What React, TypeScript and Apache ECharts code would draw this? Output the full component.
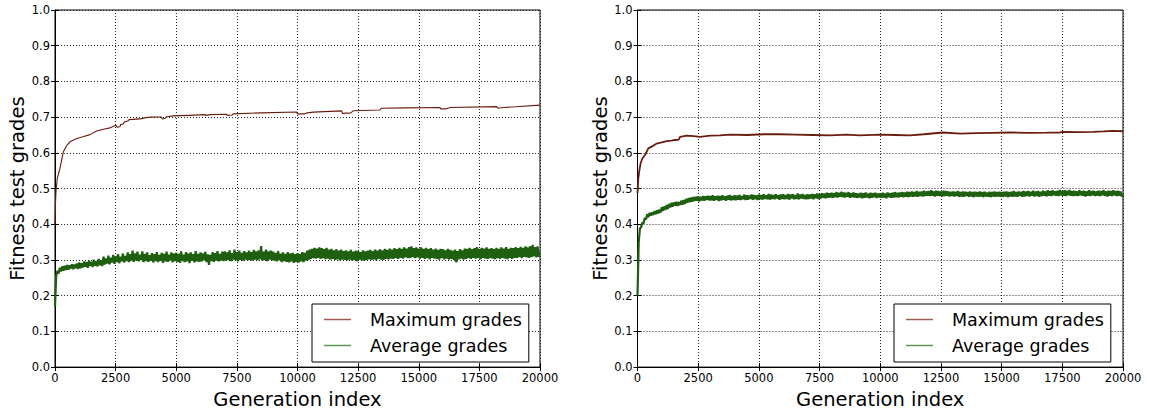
import React, { useEffect, useRef } from "react";
import * as echarts from "echarts";

const SERIES_NAMES = ["Maximum grades", "Average grades"];
const X_AXIS_TITLE = "Generation index";
const Y_AXIS_TITLE = "Fitness test grades";
const Y_TICK_LABELS = ["0.0", "0.1", "0.2", "0.3", "0.4", "0.5", "0.6", "0.7", "0.8", "0.9", "1.0"];
const X_MIN = 0;
const X_MAX = 20000;
const X_INTERVAL = 2500;
const AVG_STEP = 50; // generations between the sampled average-grade values

// Left run: maximum grades [generation, grade]
const leftMax: [number, number][] = [
  [0, 0.40], [20, 0.46], [41, 0.492], [96, 0.529], [206, 0.557], [344, 0.603], [480, 0.62],
  [619, 0.631], [894, 0.64], [1150, 0.645], [1443, 0.651], [1718, 0.661], [2000, 0.666],
  [2268, 0.67], [2515, 0.677], [2560, 0.672], [2680, 0.673], [2700, 0.679], [2818, 0.681],
  [2850, 0.686], [3024, 0.69], [3050, 0.693], [3505, 0.695], [3700, 0.698], [3918, 0.7],
  [4330, 0.7005], [4400, 0.7003], [4420, 0.695], [4550, 0.697], [4600, 0.701], [4880, 0.7035],
  [5500, 0.705], [6200, 0.707], [6220, 0.705], [6400, 0.707], [7079, 0.708], [7100, 0.705],
  [7300, 0.706], [7350, 0.709], [8500, 0.712], [9966, 0.7145], [10000, 0.709], [10300, 0.709],
  [10400, 0.712], [10650, 0.714], [11822, 0.7175], [11850, 0.7105], [12200, 0.712],
  [12303, 0.718], [13402, 0.72], [13450, 0.725], [14500, 0.726], [15876, 0.727], [15900, 0.723],
  [16100, 0.723], [16289, 0.727], [18213, 0.7295], [18250, 0.725], [18500, 0.727],
  [19000, 0.729], [20000, 0.7335],
];

// Left run: average grades, one value every AVG_STEP generations (0 .. 20000)
const leftAvg: number[] = [
  0.17, 0.255, 0.27, 0.262, 0.278, 0.268, 0.282, 0.27, 0.284, 0.272, 0.286, 0.273, 0.285, 0.276, 0.288, 0.274, 0.287, 0.277, 0.29, 0.275,
  0.293, 0.277, 0.291, 0.279, 0.296, 0.281, 0.294, 0.278, 0.298, 0.283, 0.295, 0.28, 0.301, 0.284, 0.297, 0.282, 0.303, 0.285, 0.299, 0.283,
  0.309, 0.287, 0.304, 0.29, 0.312, 0.288, 0.306, 0.293, 0.314, 0.289, 0.31, 0.294, 0.316, 0.291, 0.309, 0.296, 0.318, 0.293, 0.311, 0.297,
  0.321, 0.294, 0.316, 0.298, 0.326, 0.295, 0.318, 0.299, 0.323, 0.296, 0.315, 0.3, 0.324, 0.294, 0.317, 0.297, 0.321, 0.295, 0.313, 0.298,
  0.319, 0.293, 0.316, 0.297, 0.322, 0.294, 0.314, 0.298, 0.32, 0.292, 0.317, 0.296, 0.323, 0.295, 0.315, 0.299, 0.321, 0.293, 0.318, 0.297,
  0.32, 0.295, 0.317, 0.292, 0.324, 0.297, 0.315, 0.294, 0.322, 0.296, 0.318, 0.291, 0.321, 0.298, 0.316, 0.293, 0.325, 0.296, 0.317, 0.295,
  0.321, 0.296, 0.318, 0.299, 0.323, 0.294, 0.316, 0.286, 0.314, 0.297, 0.322, 0.295, 0.319, 0.298, 0.325, 0.296, 0.317, 0.299, 0.323, 0.297,
  0.324, 0.298, 0.321, 0.3, 0.327, 0.297, 0.319, 0.301, 0.329, 0.299, 0.322, 0.296, 0.326, 0.3, 0.32, 0.298, 0.325, 0.301, 0.321, 0.299,
  0.326, 0.3, 0.322, 0.298, 0.328, 0.301, 0.324, 0.299, 0.327, 0.302, 0.339, 0.298, 0.323, 0.3, 0.329, 0.297, 0.324, 0.301, 0.326, 0.299,
  0.323, 0.298, 0.32, 0.296, 0.325, 0.299, 0.318, 0.294, 0.321, 0.297, 0.317, 0.295, 0.322, 0.293, 0.318, 0.296, 0.32, 0.292, 0.316, 0.295,
  0.319, 0.293, 0.317, 0.296, 0.322, 0.294, 0.32, 0.298, 0.326, 0.3, 0.329, 0.303, 0.331, 0.305, 0.334, 0.304, 0.332, 0.306, 0.335, 0.303,
  0.333, 0.305, 0.33, 0.302, 0.334, 0.304, 0.329, 0.301, 0.331, 0.303, 0.327, 0.3, 0.33, 0.302, 0.326, 0.299, 0.329, 0.301, 0.325, 0.3,
  0.327, 0.299, 0.324, 0.301, 0.328, 0.298, 0.323, 0.3, 0.326, 0.297, 0.325, 0.301, 0.322, 0.299, 0.327, 0.298, 0.324, 0.3, 0.326, 0.302,
  0.328, 0.3, 0.325, 0.302, 0.329, 0.299, 0.326, 0.303, 0.33, 0.301, 0.327, 0.3, 0.331, 0.303, 0.328, 0.302, 0.332, 0.304, 0.329, 0.303,
  0.333, 0.305, 0.33, 0.303, 0.334, 0.306, 0.331, 0.304, 0.335, 0.307, 0.332, 0.305, 0.336, 0.306, 0.338, 0.308, 0.333, 0.305, 0.335, 0.307,
  0.332, 0.304, 0.335, 0.306, 0.331, 0.303, 0.334, 0.305, 0.33, 0.302, 0.333, 0.306, 0.329, 0.304, 0.332, 0.303, 0.328, 0.301, 0.331, 0.305,
  0.33, 0.302, 0.327, 0.304, 0.331, 0.301, 0.328, 0.303, 0.326, 0.3, 0.329, 0.293, 0.325, 0.302, 0.33, 0.304, 0.327, 0.301, 0.332, 0.303,
  0.331, 0.305, 0.334, 0.303, 0.33, 0.306, 0.333, 0.304, 0.336, 0.305, 0.331, 0.302, 0.334, 0.306, 0.332, 0.304, 0.335, 0.303, 0.331, 0.305,
  0.333, 0.304, 0.33, 0.302, 0.334, 0.305, 0.331, 0.303, 0.335, 0.306, 0.332, 0.304, 0.336, 0.302, 0.331, 0.305, 0.334, 0.303, 0.333, 0.306,
  0.336, 0.306, 0.333, 0.308, 0.337, 0.305, 0.334, 0.309, 0.338, 0.307, 0.335, 0.306, 0.339, 0.308, 0.342, 0.31, 0.336, 0.307, 0.338, 0.309,
  0.322,
];

// Right run: maximum grades [generation, grade]
const rightMax: [number, number][] = [
  [0, 0.4875], [35, 0.529], [80, 0.552], [130, 0.571], [200, 0.584], [309, 0.594], [446, 0.6125],
  [600, 0.618], [790, 0.626], [1000, 0.629], [1202, 0.633], [1400, 0.634], [1545, 0.636],
  [1700, 0.637], [1751, 0.645], [2026, 0.648], [2300, 0.647], [2575, 0.645], [3000, 0.648],
  [3400, 0.649], [3810, 0.651], [4500, 0.65], [5200, 0.652], [5870, 0.652], [6500, 0.651],
  [7200, 0.65], [7930, 0.649], [8600, 0.651], [9166, 0.649], [9990, 0.651], [10600, 0.65],
  [11225, 0.649], [11800, 0.652], [12585, 0.657], [13300, 0.654], [13972, 0.655], [14600, 0.656],
  [15345, 0.657], [16100, 0.656], [16858, 0.6565], [17400, 0.657], [17530, 0.6585],
  [18200, 0.658], [18765, 0.6585], [19200, 0.66], [19590, 0.6615], [20000, 0.6605],
];

// Right run: average grades, one value every AVG_STEP generations (0 .. 20000)
const rightAvg: number[] = [
  0.2, 0.35, 0.388, 0.392, 0.405, 0.402, 0.418, 0.413, 0.428, 0.42, 0.432, 0.424, 0.433, 0.426, 0.437, 0.428, 0.439, 0.43, 0.441, 0.433,
  0.448, 0.437, 0.45, 0.44, 0.454, 0.443, 0.457, 0.447, 0.46, 0.449, 0.461, 0.452, 0.463, 0.451, 0.462, 0.454, 0.466, 0.455, 0.468, 0.457,
  0.471, 0.46, 0.473, 0.462, 0.475, 0.463, 0.476, 0.465, 0.477, 0.466, 0.478, 0.464, 0.477, 0.467, 0.479, 0.466, 0.478, 0.468, 0.48, 0.467,
  0.479, 0.467, 0.481, 0.466, 0.478, 0.468, 0.48, 0.465, 0.479, 0.467, 0.481, 0.468, 0.478, 0.466, 0.48, 0.469, 0.482, 0.467, 0.479, 0.468,
  0.481, 0.467, 0.48, 0.469, 0.482, 0.468, 0.479, 0.47, 0.483, 0.468, 0.481, 0.469, 0.48, 0.471, 0.483, 0.469, 0.482, 0.47, 0.481, 0.468,
  0.483, 0.47, 0.482, 0.469, 0.484, 0.471, 0.481, 0.47, 0.485, 0.469, 0.483, 0.471, 0.482, 0.47, 0.484, 0.472, 0.481, 0.469, 0.483, 0.471,
  0.484, 0.47, 0.482, 0.471, 0.485, 0.469, 0.483, 0.472, 0.484, 0.47, 0.482, 0.471, 0.486, 0.47, 0.483, 0.472, 0.485, 0.471, 0.482, 0.47,
  0.484, 0.471, 0.483, 0.472, 0.485, 0.47, 0.484, 0.473, 0.486, 0.471, 0.485, 0.472, 0.487, 0.474, 0.486, 0.473, 0.488, 0.474, 0.487, 0.475,
  0.488, 0.474, 0.487, 0.476, 0.49, 0.475, 0.488, 0.477, 0.491, 0.476, 0.489, 0.475, 0.488, 0.477, 0.49, 0.474, 0.487, 0.476, 0.489, 0.475,
  0.487, 0.474, 0.486, 0.475, 0.488, 0.473, 0.487, 0.474, 0.489, 0.475, 0.486, 0.473, 0.488, 0.474, 0.487, 0.476, 0.488, 0.474, 0.486, 0.475,
  0.487, 0.474, 0.488, 0.475, 0.486, 0.473, 0.489, 0.476, 0.487, 0.474, 0.488, 0.475, 0.49, 0.476, 0.488, 0.475, 0.489, 0.477, 0.49, 0.476,
  0.489, 0.477, 0.491, 0.476, 0.49, 0.478, 0.492, 0.477, 0.49, 0.478, 0.493, 0.477, 0.491, 0.479, 0.492, 0.478, 0.494, 0.479, 0.492, 0.48,
  0.493, 0.479, 0.495, 0.48, 0.492, 0.478, 0.494, 0.48, 0.493, 0.479, 0.492, 0.478, 0.494, 0.479, 0.493, 0.48, 0.492, 0.478, 0.491, 0.479,
  0.492, 0.478, 0.491, 0.479, 0.493, 0.477, 0.49, 0.478, 0.492, 0.477, 0.491, 0.479, 0.49, 0.477, 0.492, 0.478, 0.49, 0.476, 0.491, 0.478,
  0.49, 0.477, 0.492, 0.478, 0.49, 0.476, 0.491, 0.478, 0.489, 0.477, 0.491, 0.476, 0.49, 0.478, 0.492, 0.477, 0.49, 0.478, 0.491, 0.477,
  0.49, 0.477, 0.491, 0.478, 0.492, 0.476, 0.49, 0.478, 0.491, 0.477, 0.493, 0.478, 0.49, 0.477, 0.492, 0.479, 0.491, 0.477, 0.493, 0.478,
  0.492, 0.479, 0.493, 0.478, 0.491, 0.48, 0.494, 0.478, 0.492, 0.479, 0.493, 0.477, 0.491, 0.479, 0.494, 0.48, 0.492, 0.478, 0.495, 0.48,
  0.493, 0.479, 0.495, 0.481, 0.492, 0.48, 0.494, 0.479, 0.496, 0.481, 0.493, 0.48, 0.495, 0.479, 0.494, 0.481, 0.496, 0.48, 0.493, 0.479,
  0.494, 0.48, 0.492, 0.479, 0.495, 0.481, 0.493, 0.48, 0.494, 0.478, 0.492, 0.48, 0.495, 0.479, 0.493, 0.481, 0.494, 0.479, 0.492, 0.48,
  0.494, 0.479, 0.493, 0.481, 0.495, 0.48, 0.492, 0.478, 0.494, 0.48, 0.493, 0.479, 0.495, 0.481, 0.493, 0.479, 0.494, 0.48, 0.492, 0.478,
  0.485,
];

const FONT = "DejaVu Sans";
const MAX_COLOR = "#6b1c0e";
const AVG_COLOR = "#1f6010";
const MAX_LEGEND_COLOR = "#9c5f52";
const AVG_LEGEND_COLOR = "#5f9553";

const GRIDS = [
  { left: 55, top: 10, width: 485, height: 360 },
  { left: 637.5, top: 10, width: 485.5, height: 360 },
];

function buildOption() {
  const grid = GRIDS.map((g) => ({
    ...g,
    show: true,
    borderColor: "#000",
    borderWidth: 1,
    backgroundColor: "transparent",
  }));

  const tickStyle = { show: true, inside: true, length: 4, lineStyle: { color: "#000", width: 1 } };
  const splitStyle = { show: true, lineStyle: { color: "#222", type: [1, 2], width: 1 } };

  const xAxis: any[] = [];
  const yAxis: any[] = [];
  GRIDS.forEach((_, gi) => {
    xAxis.push({
      type: "value",
      gridIndex: gi,
      min: X_MIN,
      max: X_MAX,
      interval: X_INTERVAL,
      position: "bottom",
      axisLine: { show: true, lineStyle: { color: "#000", width: 1 } },
      axisTick: tickStyle,
      splitLine: splitStyle,
      axisLabel: {
        color: "#000",
        fontFamily: FONT,
        fontSize: 11.5,
        margin: 5,
        formatter: (v: number) => String(v),
      },
      name: X_AXIS_TITLE,
      nameLocation: "middle",
      nameGap: 20,
      nameTextStyle: { color: "#000", fontFamily: FONT, fontSize: 19.5 },
    });
    xAxis.push({
      type: "value",
      gridIndex: gi,
      min: X_MIN,
      max: X_MAX,
      interval: X_INTERVAL,
      position: "top",
      axisLine: { show: false },
      axisTick: tickStyle,
      splitLine: { show: false },
      axisLabel: { show: false },
    });
    yAxis.push({
      type: "value",
      gridIndex: gi,
      min: 0,
      max: 1,
      interval: 0.1,
      position: "left",
      axisLine: { show: true, lineStyle: { color: "#000", width: 1 } },
      axisTick: tickStyle,
      splitLine: splitStyle,
      axisLabel: {
        color: "#000",
        fontFamily: FONT,
        fontSize: 11.5,
        margin: 5,
        formatter: (v: number) => Y_TICK_LABELS[Math.round(v * 10)],
      },
      name: Y_AXIS_TITLE,
      nameLocation: "middle",
      nameGap: 27,
      nameRotate: 90,
      nameTextStyle: { color: "#000", fontFamily: FONT, fontSize: 19.5 },
    });
    yAxis.push({
      type: "value",
      gridIndex: gi,
      min: 0,
      max: 1,
      interval: 0.1,
      position: "right",
      axisLine: { show: false },
      axisTick: tickStyle,
      splitLine: { show: false },
      axisLabel: { show: false },
    });
  });

  const avgPairs = (arr: number[]) => arr.map((v, i) => [i * AVG_STEP, v]);

  const runs = [
    { max: leftMax, avg: leftAvg, maxWidth: 1.1, avgWidth: 2.2 },
    { max: rightMax, avg: rightAvg, maxWidth: 1.8, avgWidth: 2.2 },
  ];

  const series: any[] = [];
  runs.forEach((r, gi) => {
    series.push({
      type: "line",
      name: SERIES_NAMES[0],
      xAxisIndex: gi * 2,
      yAxisIndex: gi * 2,
      data: r.max,
      showSymbol: false,
      symbol: "none",
      lineStyle: { color: MAX_COLOR, width: r.maxWidth },
      itemStyle: { color: MAX_COLOR },
      z: 3,
    });
    series.push({
      type: "line",
      name: SERIES_NAMES[1],
      xAxisIndex: gi * 2,
      yAxisIndex: gi * 2,
      data: avgPairs(r.avg),
      showSymbol: false,
      symbol: "none",
      lineStyle: { color: AVG_COLOR, width: r.avgWidth },
      itemStyle: { color: AVG_COLOR },
      z: 2,
    });
  });

  const legendColors = [MAX_LEGEND_COLOR, AVG_LEGEND_COLOR];
  const legendLefts = [312, 894];
  const legend = legendLefts.map((left) => ({
    left,
    top: 304,
    orient: "vertical",
    icon: "rect",
    itemWidth: 27,
    itemHeight: 1.5,
    itemGap: 5,
    padding: [5, 7, 6, 12],
    borderColor: "#000",
    borderWidth: 1,
    borderRadius: 0,
    backgroundColor: "#fff",
    selectedMode: false,
    data: SERIES_NAMES.map((name, i) => ({
      name,
      icon: "rect",
      itemStyle: { color: legendColors[i], opacity: 1, borderWidth: 0 },
    })),
    textStyle: {
      color: "#000",
      fontFamily: FONT,
      fontSize: 17.5,
      lineHeight: 21,
      padding: [0, 0, 0, 14],
    },
  }));

  return {
    animation: false,
    backgroundColor: "#fff",
    textStyle: { fontFamily: FONT },
    grid,
    xAxis,
    yAxis,
    series,
    legend,
  };
}

export default function App() {
  const ref = useRef<HTMLDivElement>(null);
  useEffect(() => {
    if (!ref.current) return;
    const chart = echarts.init(ref.current, undefined, { renderer: "svg" });
    chart.setOption(buildOption() as any);
    return () => chart.dispose();
  }, []);
  return (
    <div
      ref={ref}
      style={{ position: "fixed", left: 0, top: 0, width: 1150, height: 414, background: "#fff" }}
    />
  );
}
